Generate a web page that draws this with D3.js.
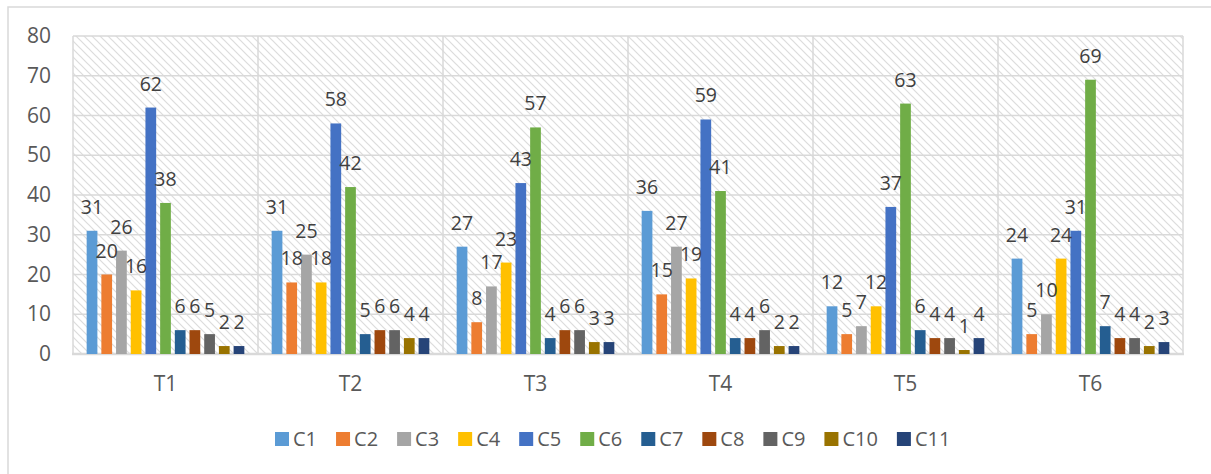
<!DOCTYPE html>
<html>
<head>
<meta charset="utf-8">
<script src="https://cdn.jsdelivr.net/npm/d3@7"></script>
<style>
  body { margin: 0; background: #fff; }
  svg { display: block; font-family: 'Open Sans', sans-serif; }
</style>
</head>
<body>
<div id="chart"></div>
<script>
var categories = ['T1', 'T2', 'T3', 'T4', 'T5', 'T6']
var series = ['C1', 'C2', 'C3', 'C4', 'C5', 'C6', 'C7', 'C8', 'C9', 'C10', 'C11']
var colors = ['#5B9BD5', '#ED7D31', '#A5A5A5', '#FFC000', '#4472C4', '#70AD47',
  '#255E91', '#9E480E', '#636363', '#997300', '#264478']
// one array per category, values in series order
var T1 = [31, 20, 26, 16, 62, 38, 6, 6, 5, 2, 2]
var T2 = [31, 18, 25, 18, 58, 42, 5, 6, 6, 4, 4]
var T3 = [27, 8, 17, 23, 43, 57, 4, 6, 6, 3, 3]
var T4 = [36, 15, 27, 19, 59, 41, 4, 4, 6, 2, 2]
var T5 = [12, 5, 7, 12, 37, 63, 6, 4, 4, 1, 4]
var T6 = [24, 5, 10, 24, 31, 69, 7, 4, 4, 2, 3]
var yTicks = [0, 10, 20, 30, 40, 50, 60, 70, 80]

var values = [T1, T2, T3, T4, T5, T6]

var w = 1211
var h = 474
var grid = '#d9d9d9'

var svg = d3.select('#chart').append('svg')
  .attr('width', w)
  .attr('height', h)

// hatched plot background
var defs = svg.append('defs')
var pat = defs.append('pattern')
  .attr('id', 'hatch')
  .attr('patternUnits', 'userSpaceOnUse')
  .attr('width', 8)
  .attr('height', 8)
pat.append('rect').attr('width', 8).attr('height', 8).attr('fill', '#fff')
pat.append('path')
  .attr('d', 'M0,0 L8,8 M-4,4 L4,12 M4,-4 L12,4')
  .attr('stroke', '#dcdcdc')
  .attr('stroke-width', 1.2)

// outer chart border (cropped on right / bottom)
svg.append('rect')
  .attr('x', 8).attr('y', 7)
  .attr('width', 1400).attr('height', 800)
  .attr('fill', 'none')
  .attr('stroke', grid)
  .attr('stroke-width', 1.5)

var x0 = d3.scaleBand().domain(categories).range([73, 1183])
var x1 = d3.scaleBand().domain(series).range([0, x0.bandwidth()])
  .paddingInner(0.27).paddingOuter(0.93)
var y = d3.scaleLinear().domain([0, 80]).range([354, 36])

svg.append('rect')
  .attr('x', x0.range()[0]).attr('y', y(80))
  .attr('width', x0.range()[1] - x0.range()[0])
  .attr('height', y(0) - y(80))
  .attr('fill', 'url(#hatch)')

// horizontal gridlines
svg.append('g').selectAll('line')
  .data(yTicks.filter(function (t) { return t > 0 }))
  .enter().append('line')
  .attr('x1', x0.range()[0]).attr('x2', x0.range()[1])
  .attr('y1', function (d) { return y(d) }).attr('y2', function (d) { return y(d) })
  .attr('stroke', grid)
  .attr('stroke-width', 1.5)

// vertical separators between categories
var seps = categories.map(function (c) { return x0(c) }).concat([x0.range()[1]])
svg.append('g').selectAll('line')
  .data(seps)
  .enter().append('line')
  .attr('x1', function (d) { return d }).attr('x2', function (d) { return d })
  .attr('y1', y(80)).attr('y2', y(0))
  .attr('stroke', grid)
  .attr('stroke-width', 1.5)

// bottom axis line
svg.append('line')
  .attr('x1', x0.range()[0] - 1).attr('x2', x0.range()[1] + 1)
  .attr('y1', y(0)).attr('y2', y(0))
  .attr('stroke', grid)
  .attr('stroke-width', 2.5)

// y axis labels
var yAxis = d3.axisLeft(y).tickValues(yTicks).tickSize(0).tickPadding(0)
var ya = svg.append('g').attr('transform', 'translate(51,0)').call(yAxis)
ya.select('.domain').remove()
ya.selectAll('text')
  .attr('font-family', "'Open Sans', sans-serif")
  .attr('font-size', 21)
  .attr('fill', '#595959')

// x axis labels
var xAxis = d3.axisBottom(x0).tickSize(0).tickPadding(0)
var xa = svg.append('g').attr('transform', 'translate(0,376)').call(xAxis)
xa.select('.domain').remove()
xa.selectAll('text')
  .attr('font-family', "'Open Sans', sans-serif")
  .attr('font-size', 21)
  .attr('fill', '#595959')

// bars + labels
var groups = svg.append('g').selectAll('g')
  .data(categories)
  .enter().append('g')
  .attr('transform', function (c) { return 'translate(' + x0(c) + ',0)' })

groups.each(function (c, ci) {
  var g = d3.select(this)
  var vals = values[ci]
  g.selectAll('rect')
    .data(series)
    .enter().append('rect')
    .attr('x', function (s) { return x1(s) })
    .attr('y', function (s, si) { return y(vals[si]) })
    .attr('width', x1.bandwidth())
    .attr('height', function (s, si) { return y(0) - y(vals[si]) })
    .attr('fill', function (s, si) { return colors[si] })
  g.selectAll('text')
    .data(series)
    .enter().append('text')
    .text(function (s, si) { return vals[si] })
    .attr('x', function (s) { return x1(s) + x1.bandwidth() / 2 })
    .attr('y', function (s, si) { return y(vals[si]) - 17 })
    .attr('text-anchor', 'middle')
    .attr('font-size', 19.5)
    .attr('fill', '#404040')
})

// legend
var legend = svg.append('g')
var lx = 275
series.forEach(function (s, i) {
  legend.append('rect')
    .attr('x', lx).attr('y', 432)
    .attr('width', 14).attr('height', 14)
    .attr('fill', colors[i])
  var t = legend.append('text')
    .text(s)
    .attr('x', lx + 18).attr('y', 446)
    .attr('font-size', 20)
    .attr('fill', '#595959')
  lx += 18 + t.node().getComputedTextLength() + 19
})
</script>
</body>
</html>
